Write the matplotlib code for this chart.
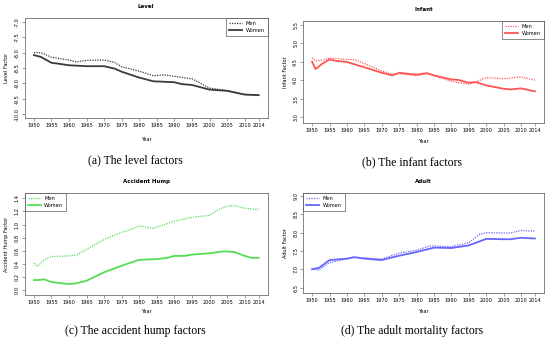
import matplotlib
matplotlib.use("Agg")
import matplotlib.pyplot as plt

# ---------------- data ----------------
lvl_years_m = [1950, 1952, 1955, 1960, 1962, 1965, 1970, 1973, 1975, 1980, 1984, 1987, 1990, 1995, 2000, 2005, 2010, 2014]
lvl_men     = [-8.0, -8.0, -8.15, -8.24, -8.3, -8.25, -8.24, -8.32, -8.46, -8.6, -8.75, -8.72, -8.77, -8.85, -9.15, -9.23, -9.36, -9.38]
lvl_years_w = [1950, 1952, 1955, 1957, 1960, 1965, 1970, 1973, 1975, 1980, 1984, 1990, 1992, 1995, 2000, 2005, 2010, 2014]
lvl_women   = [-8.08, -8.14, -8.33, -8.36, -8.41, -8.44, -8.44, -8.52, -8.62, -8.81, -8.93, -8.96, -9.02, -9.05, -9.2, -9.24, -9.36, -9.38]

inf_years_m = [1950, 1951, 1953, 1955, 1960, 1962, 1965, 1970, 1973, 1975, 1980, 1983, 1985, 1990, 1995, 1997, 2000, 2005, 2010, 2014]
inf_men     = [4.61, 4.52, 4.54, 4.6, 4.56, 4.56, 4.45, 4.25, 4.16, 4.18, 4.12, 4.18, 4.12, 3.97, 3.89, 3.95, 4.07, 4.04, 4.09, 4.0]
inf_years_w = [1950, 1951, 1953, 1955, 1957, 1960, 1965, 1970, 1973, 1975, 1980, 1983, 1985, 1990, 1992, 1995, 1997, 2000, 2005, 2007, 2010, 2014]
inf_women   = [4.5, 4.3, 4.45, 4.56, 4.52, 4.49, 4.35, 4.2, 4.13, 4.2, 4.15, 4.19, 4.13, 4.02, 4.01, 3.93, 3.95, 3.86, 3.77, 3.75, 3.78, 3.7]

acc_years_m = [1950, 1951, 1953, 1955, 1960, 1962, 1965, 1970, 1975, 1977, 1980, 1984, 1985, 1990, 1995, 2000, 2003, 2005, 2007, 2010, 2013, 2014]
acc_men     = [0.41, 0.36, 0.46, 0.51, 0.52, 0.53, 0.62, 0.77, 0.88, 0.91, 0.98, 0.94, 0.96, 1.05, 1.11, 1.14, 1.24, 1.28, 1.29, 1.25, 1.23, 1.24]
acc_years_w = [1950, 1951, 1953, 1955, 1958, 1960, 1962, 1965, 1970, 1975, 1980, 1985, 1988, 1990, 1993, 1995, 2000, 2004, 2007, 2010, 2012, 2014]
acc_women   = [0.15, 0.15, 0.16, 0.12, 0.1, 0.09, 0.1, 0.14, 0.27, 0.37, 0.46, 0.47, 0.49, 0.52, 0.52, 0.54, 0.56, 0.59, 0.58, 0.52, 0.49, 0.49]

adu_years_m = [1950, 1952, 1955, 1960, 1962, 1965, 1970, 1975, 1980, 1984, 1988, 1990, 1995, 1998, 2000, 2005, 2007, 2010, 2014]
adu_men     = [7.0, 6.98, 7.18, 7.28, 7.33, 7.31, 7.28, 7.44, 7.52, 7.64, 7.62, 7.62, 7.72, 7.95, 8.0, 7.99, 7.99, 8.06, 8.04]
adu_years_w = [1950, 1952, 1955, 1960, 1962, 1965, 1970, 1975, 1980, 1985, 1990, 1995, 2000, 2005, 2007, 2010, 2014]
adu_women   = [7.0, 7.04, 7.25, 7.29, 7.33, 7.29, 7.25, 7.37, 7.47, 7.59, 7.58, 7.65, 7.83, 7.82, 7.82, 7.86, 7.84]

xticks = [1950, 1955, 1960, 1965, 1970, 1975, 1980, 1985, 1990, 1995, 2000, 2005, 2010, 2014]

panels = [
    dict(title="Level", ylabel="Level Factor", color="#3a3a3a",
         ym=lvl_years_m, m=lvl_men, yw=lvl_years_w, w=lvl_women,
         ylim=(-10.12, -6.88), yticks=[-10.0, -9.5, -9.0, -8.5, -8.0, -7.5, -7.0],
         rect=[0.045, 0.661, 0.442, 0.287], loc="upper right",
         caption_b="a", caption="The level factors", cap_y=0.54, year_y=0.60),
    dict(title="Infant", ylabel="Infant Factor", color="#ff5555",
         ym=inf_years_m, m=inf_men, yw=inf_years_w, w=inf_women,
         ylim=(2.85, 5.6), yticks=[3.0, 3.5, 4.0, 4.5, 5.0, 5.5],
         rect=[0.551, 0.647, 0.438, 0.293], loc="upper right",
         caption_b="b", caption="The infant factors", cap_y=0.535, year_y=0.594),
    dict(title="Accident Hump", ylabel="Accident Hump Factor", color="#55dd55",
         ym=acc_years_m, m=acc_men, yw=acc_years_w, w=acc_women,
         ylim=(-0.08, 1.48), yticks=[0.0, 0.2, 0.4, 0.6, 0.8, 1.0, 1.2, 1.4],
         rect=[0.045, 0.152, 0.442, 0.293], loc="upper left",
         caption_b="c", caption="The accident hump factors", cap_y=0.05, year_y=0.105),
    dict(title="Adult", ylabel="Adult Factor", color="#6666ff",
         ym=adu_years_m, m=adu_men, yw=adu_years_w, w=adu_women,
         ylim=(6.35, 9.08), yticks=[6.5, 7.0, 7.5, 8.0, 8.5, 9.0],
         rect=[0.551, 0.158, 0.438, 0.287], loc="upper left",
         caption_b="d", caption="The adult mortality factors", cap_y=0.05, year_y=0.105),
]

fig = plt.figure(figsize=(5.5, 3.48), dpi=100)
fs = 3.6
for p in panels:
    ax = fig.add_axes(p["rect"])
    ax.plot(p["ym"], p["m"], color=p["color"], lw=0.9, ls=(0, (1, 1)), label="Men")
    ax.plot(p["yw"], p["w"], color=p["color"], lw=1.3, ls="-", label="Women")
    ax.set_xlim(1947.4, 2016.6)
    ax.set_ylim(*p["ylim"])
    ax.set_xticks(xticks)
    ax.set_xticklabels([str(x) for x in xticks])
    ax.set_yticks(p["yticks"])
    ax.set_yticklabels([f"{v:.1f}" for v in p["yticks"]], rotation=90, va="center")
    ax.tick_params(labelsize=fs, length=2, width=0.4, pad=1.5, color="#555555")
    for s in ax.spines.values():
        s.set_linewidth(0.5)
        s.set_color("#555555")
    ax.set_title(p["title"], fontsize=4.0, fontweight="bold", pad=7)
    ax.set_ylabel(p["ylabel"], fontsize=fs, labelpad=4)
    leg = ax.legend(loc=p["loc"], fontsize=fs, frameon=True, fancybox=False,
                    borderaxespad=0, handlelength=2.6, borderpad=0.6, labelspacing=0.4,
                    handletextpad=0.7)
    leg.get_frame().set_edgecolor("#333333")
    leg.get_frame().set_linewidth(0.5)
    cx = p["rect"][0] + p["rect"][2] / 2
    fig.text(cx, p["year_y"], "Year", fontsize=fs, ha="center", va="center")
    fig.text(cx - 0.02, p["cap_y"], "(" + p["caption_b"] + ") " + p["caption"],
             fontsize=8.5, ha="center", va="center", family="Liberation Serif")

fig.savefig("out.png", dpi=100)
